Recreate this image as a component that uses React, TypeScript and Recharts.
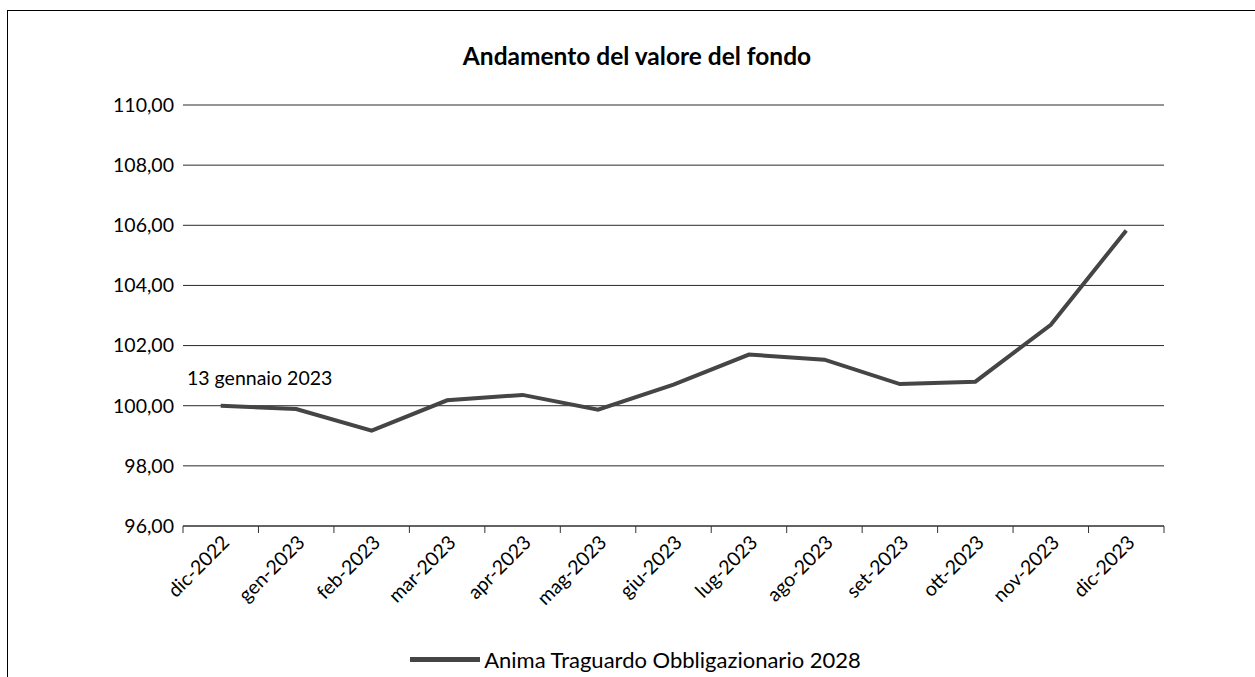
import { CartesianGrid, Legend, Line, LineChart, XAxis, YAxis } from "recharts";

const months = [
  "dic-2022",
  "gen-2023",
  "feb-2023",
  "mar-2023",
  "apr-2023",
  "mag-2023",
  "giu-2023",
  "lug-2023",
  "ago-2023",
  "set-2023",
  "ott-2023",
  "nov-2023",
  "dic-2023",
];
const fundValues = [100.0, 99.89, 99.17, 100.18, 100.36, 99.87, 100.7, 101.7, 101.53, 100.72, 100.8, 102.69, 105.83];
const yTicks = [96, 98, 100, 102, 104, 106, 108, 110];
const seriesName = "Anima Traguardo Obbligazionario 2028";
const chartTitle = "Andamento del valore del fondo";
const startNote = "13 gennaio 2023";

// months sit in the middle of each band, tick marks on the band edges
const data = months.map((m, i) => ({ pos: i + 0.5, month: m, value: fundValues[i] }));
const edgeTicks = [...months.map((_, i) => i), months.length];
const midTicks = months.map((_, i) => i + 0.5);

const FONT = "Lato, 'Noto Sans', sans-serif";
const LINE = "#454545";
const fmt = (v: number) => v.toFixed(2).replace(".", ",");

function LegendBox() {
  return (
    <div style={{ display: "flex", justifyContent: "center", alignItems: "center", height: 24, fontFamily: FONT, fontSize: 22, color: "#000", paddingLeft: 16 }}>
      <span style={{ display: "inline-block", width: 70, height: 5, background: LINE, marginRight: 4 }} />
      {seriesName}
    </div>
  );
}

export default function App() {
  return (
    <div style={{ position: "fixed", left: 0, top: 0, width: 1255, height: 677, overflow: "hidden", background: "#fff" }}>
      <div style={{ position: "absolute", left: 7, top: 10, width: 1300, height: 720, border: "1px solid #000" }} />
      <div style={{ position: "absolute", left: 0, top: 0 }}>
        <LineChart width={1255} height={677} data={data} margin={{ top: 105, right: 91, left: 0, bottom: 6 }}>
          <CartesianGrid xAxisId="m" vertical={false} stroke="#2a2a2a" strokeOpacity={1} />
          <XAxis
            xAxisId="e"
            type="number"
            dataKey="pos"
            domain={[0, months.length]}
            ticks={edgeTicks}
            interval={0}
            tickFormatter={() => ""}
            tickSize={7}
            height={1}
            axisLine={{ stroke: "#333" }}
            tickLine={{ stroke: "#333" }}
          />
          <XAxis
            xAxisId="m"
            type="number"
            dataKey="pos"
            domain={[0, months.length]}
            ticks={midTicks}
            interval={0}
            tickFormatter={(v: number) => months[Math.floor(v)]}
            axisLine={false}
            tickLine={false}
            tickSize={6}
            tickMargin={1}
            angle={-45}
            textAnchor="end"
            height={120}
            tick={{ fill: "#000", fontSize: 19.5, fontFamily: FONT }}
          />
          <YAxis
            domain={[96, 110]}
            ticks={yTicks}
            tickFormatter={fmt}
            width={183}
            axisLine={false}
            tickLine={false}
            tickMargin={3}
            tick={{ fill: "#000", fontSize: 19.5, fontFamily: FONT }}
          />
          <Legend verticalAlign="bottom" wrapperStyle={{ left: 0, width: 1255 }} content={() => <LegendBox />} />
          <Line
            xAxisId="e"
            type="linear"
            dataKey="value"
            name={seriesName}
            stroke={LINE}
            strokeWidth={4}
            dot={false}
            activeDot={false}
            isAnimationActive={false}
          />
        </LineChart>
      </div>
      <div style={{ position: "absolute", left: 0, width: 1274, top: 41, textAlign: "center", fontFamily: FONT, fontWeight: 700, fontSize: 24.5, color: "#000" }}>
        {chartTitle}
      </div>
      <div style={{ position: "absolute", left: 187, top: 366, fontFamily: FONT, fontSize: 19.5, color: "#000" }}>
        {startNote}
      </div>
    </div>
  );
}
